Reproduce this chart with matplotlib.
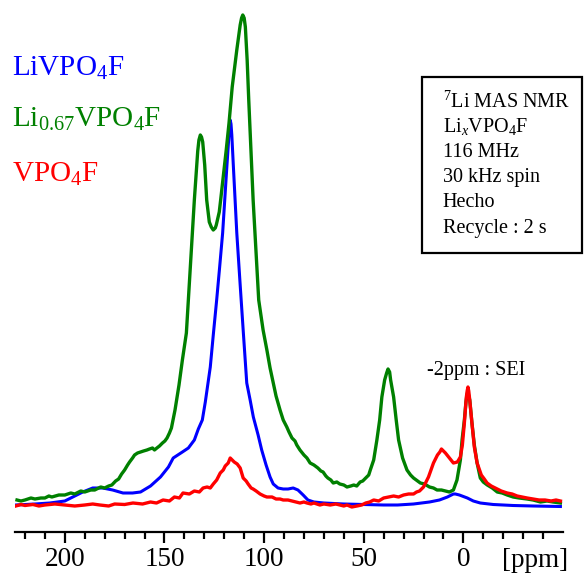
"""
7Li MAS NMR spectra of LixVPO4F (LiVPO4F, Li0.67VPO4F, VPO4F)
- values read from the reference picture (intensity in arbitrary units)
- saves out.png
"""

import matplotlib
matplotlib.use("Agg")
import matplotlib.pyplot as plt
from matplotlib.patches import Rectangle
from matplotlib.ticker import FixedLocator

plt.rcParams['font.family'] = ['Liberation Serif', 'DejaVu Serif']
plt.rcParams['mathtext.fontset'] = 'custom'
plt.rcParams['mathtext.rm'] = 'Liberation Serif'
plt.rcParams['mathtext.it'] = 'Liberation Serif:italic'

# =========================
# data (ppm, intensity a.u.)
# =========================

livpo4f_ppm = [224.6, 215, 207.5, 200, 196, 191, 186, 181, 176, 170.8, 166, 162, 157, 152,
               148, 145.6, 141, 138, 135, 133, 131, 129.5, 127, 125.5, 123.8, 122.3, 120.8,
               118.7, 117.8, 117.4, 117, 116.6, 116.2, 115.4, 113.7, 112, 110.4, 108.7, 107,
               105.4, 103, 101.2, 99, 97, 95.4, 93, 90.4, 88, 85.4, 83, 80.4, 78, 75, 70, 60,
               50, 40, 33, 25, 17, 12, 8, 5, 4, 2, 0, -2, -5, -8.5, -15, -25, -35, -48.7]
livpo4f_int = [1, 2, 3, 5, 9, 14, 18, 18, 16, 13, 13, 14, 20, 29,
               39, 48, 54, 58, 66, 77, 86, 104, 139, 171, 206, 239, 273,
               339, 366, 380, 386, 382, 371, 339, 273, 221, 173, 123, 106,
               89, 71, 56, 41, 29, 22, 18, 17, 17, 18, 16, 11, 6, 4, 3, 2,
               1.5, 1, 1, 2, 4, 6, 9, 12, 12, 11, 9.5, 8, 5, 3, 1.5, 0.5, 0, -0.5]

li067_ppm = [224, 222, 220, 217, 215, 212, 210, 208, 206.5, 203, 200, 197, 195, 192, 190,
             187, 185, 182, 180, 178, 176.4, 174.5, 173, 171.5, 170, 168.5, 167.5, 166, 165,
             163.5, 162, 160.5, 158.8, 157.5, 156, 155, 153.8, 152.5, 151, 149.8, 148.7,
             147.5, 146.5, 144.7, 142.7, 141, 139, 137, 135, 134, 133.3, 132.7, 132, 131.4,
             130.8, 129.8, 128.8, 127.5, 126.5, 125.5, 124.5, 124, 122.5, 121.8, 119,
             117.6, 116, 113.7, 112, 111.3, 110.7, 110, 109.4, 108.5, 107.7, 105.5, 102.7,
             100.5, 98.6, 97, 95.4, 94, 92, 90.4, 88.6, 87.5, 86, 84.5, 83.6, 82, 80, 78.5,
             76.9, 75, 73, 71.5, 70.4, 69, 68, 66.5, 65.3, 63.5, 62, 60, 58.4, 56.5, 55,
             53.5, 51.8, 50.5, 49, 47.5, 46.7, 45, 43.4, 42, 40.9, 39.5, 38.5, 37.8, 37,
             36.5, 35, 33.7, 32.5, 30.5, 28.3, 26.5, 25, 23, 21.6, 19.5, 17, 15, 13.2, 11,
             9, 7, 5, 3.2, 1.5, 0.65, -0.5, -1.3, -1.8, -2.2, -2.6, -3.2, -4.3, -5.5, -6.9,
             -8.5, -10, -12, -14.5, -17, -19.5, -22, -25, -28, -32, -35, -38.7, -42, -45,
             -48.7]
li067_int = [6, 5, 6, 8, 7, 8, 8, 10, 9, 11, 11, 13, 12, 15, 14,
             16, 16, 19, 18, 20, 21, 25, 27, 32, 36, 41, 44, 48, 51,
             53, 54, 55, 56, 57, 58, 56, 58, 60, 63, 65, 68,
             73, 78, 96, 121, 146, 173, 239, 306, 335, 355, 366, 371, 369,
             364, 341, 306, 284, 279, 276, 278, 281, 294, 306, 356,
             383, 419, 456, 481, 488, 491, 488, 479, 446, 406, 306, 206,
             176, 156, 138, 123, 110, 96, 86, 79, 74, 68, 65, 61, 56, 51, 48,
             43, 41, 38, 35, 34, 30, 28, 26, 23, 24, 22, 21, 19, 20, 21,
             20, 24, 25, 28, 31, 36, 46, 66, 86, 109, 126, 133, 137, 134,
             126, 109, 86, 66, 48, 36, 31, 28, 25, 23, 22, 19, 18, 16, 16,
             15, 14, 16, 26, 46, 66, 86, 104, 111, 114, 111, 106, 83, 61, 43,
             28, 24, 21, 18, 14, 13, 11, 9, 8, 7, 6, 4, 5, 4,
             3]

vpo4f_ppm = [224.6, 222, 220, 216, 213, 210, 205, 200, 195, 190, 186, 182.4, 178, 175, 170,
             165.8, 161, 157, 154, 150.7, 147.5, 145, 142.5, 140.7, 137.5, 135, 132.5,
             130.6, 128.6, 127, 125.5, 123.8, 122, 120.5, 119.5, 118, 117, 116, 115, 113.5,
             112, 110.5, 109, 108, 106.5, 105.5, 104, 102, 100, 98.6, 96, 94, 92, 90.4, 88,
             86, 84, 82, 80, 78.5, 76.5, 75, 72, 70, 66.8, 64, 62, 60, 58.4, 56, 53.4, 51,
             49, 47, 45, 42.5, 40, 37.5, 35, 32.5, 30, 27.5, 25, 23.5, 22, 20, 17.5, 15, 13,
             11.8, 11, 10, 9, 7, 5, 3, 1.5, 0.5, -0.5, -1.5, -1.9, -2.3, -2.7, -3.2, -4.3,
             -5.5, -6.9, -9, -10.5, -11.9, -14, -16, -19, -22, -24.5, -27, -29.5, -32, -35,
             -38, -41, -44, -46.5, -48.7]
vpo4f_int = [0, 1.5, 0.5, 1.5, 0, 1, 2, 1, 0, 1, 2, 1, 0, 2, 1.5,
             3, 2, 4, 3, 6, 5, 9, 8, 13, 12, 15, 14,
             18, 19, 18, 22, 26, 33, 36, 40, 43, 48, 46, 44, 42,
             38, 28, 25, 22, 18, 17, 15, 12, 10, 9, 9, 7, 7, 6, 6,
             5, 4, 3, 4, 3, 2, 3, 1, 2, 1, 2, 1, 0, 1, -1, 0, 1,
             3, 4, 6, 5, 8, 9, 10, 9, 11, 12, 12, 14, 15, 19, 29, 43, 51,
             54, 57, 55, 53, 48, 43, 44, 49, 61, 83, 109, 115, 119, 115, 106, 83,
             59, 43, 31, 27, 23, 20, 18, 15, 13, 12, 10, 9, 8, 7,
             6, 6, 5, 6, 5]

series_labels = [r'LiVPO$_\mathregular{4}$F',
                 r'Li$_\mathregular{0.67}$VPO$_\mathregular{4}$F',
                 r'VPO$_\mathregular{4}$F']
series_colors = ['#0000FF', '#008000', '#FF0000']

box_lines = [r'$^\mathregular{7}$Li MAS NMR',
             r'Li$_x$VPO$_\mathregular{4}$F',
             '116 MHz',
             '30 kHz spin',
             'Hecho',
             'Recycle : 2 s']

major_ticks = [200, 150, 100, 50, 0]
minor_ticks = list(range(220, -41, -10))


def main():
    W, H = 585, 574
    fig = plt.figure(figsize=(W / 100, H / 100), dpi=100)
    ax = fig.add_axes([15 / W, (H - 532) / H, 548 / W, 532 / H])

    # curves: blue at the bottom, red on top
    ax.plot(livpo4f_ppm, livpo4f_int, color=series_colors[0], lw=2.2, zorder=2)
    ax.plot(li067_ppm, li067_int, color=series_colors[1], lw=2.4, zorder=3)
    ax.plot(vpo4f_ppm, vpo4f_int, color=series_colors[2], lw=2.4, zorder=4)

    ax.set_xlim(225, -50)
    ax.set_ylim(-26, 506)

    for side in ['left', 'top', 'right']:
        ax.spines[side].set_visible(False)
    ax.spines['bottom'].set_linewidth(1.6)
    ax.set_yticks([])
    ax.xaxis.set_major_locator(FixedLocator(major_ticks))
    ax.xaxis.set_minor_locator(FixedLocator(minor_ticks))
    ax.tick_params(axis='x', which='major', direction='out', length=8, width=1.6,
                   labelsize=19.5, pad=3)
    ax.tick_params(axis='x', which='minor', direction='out', length=5, width=1.6)
    ax.set_facecolor('none')

    fig.text(535 / W, 1 - 567 / H, '[ppm]', fontsize=19.5, ha='center', va='baseline')

    # legend-like labels at top left
    baselines = [76, 127, 182]
    for label, color, yb in zip(series_labels, series_colors, baselines):
        fig.text(12 / W, 1 - yb / H, label, color=color, fontsize=21, va='baseline')

    # info box
    box = Rectangle((421.7 / W, 1 - 253 / H), (582 - 421.7) / W, (253 - 76.7) / H,
                    transform=fig.transFigure, fill=False, edgecolor='black', lw=1.6)
    fig.patches.append(box)
    line_y = [108, 132, 157, 182, 207, 233]
    for txt, yb in zip(box_lines, line_y):
        fig.text(442.7 / W, 1 - yb / H, txt, fontsize=14.5, va='baseline')

    fig.text(426.7 / W, 1 - 375 / H, '-2ppm : SEI', fontsize=14.5, va='baseline')

    fig.savefig('out.png', dpi=100)
    plt.close(fig)


if __name__ == "__main__":
    main()
